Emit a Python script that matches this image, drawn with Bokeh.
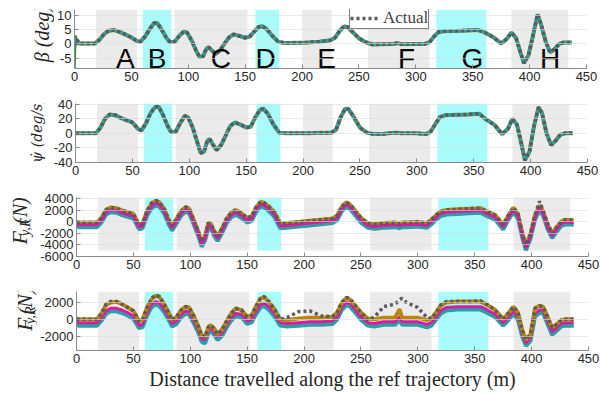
from math import pi
from bokeh.plotting import figure
from bokeh.layouts import column, row
from bokeh.models import Range1d, FixedTicker, Legend, LegendItem
from bokeh.core.properties import value
from bokeh.embed import file_html
from bokeh.resources import INLINE

# ---------------- data ----------------
dist = [0, 2, 4, 10, 18, 22, 26, 30, 35, 40,
        45, 50, 55, 58, 62, 66, 70, 73, 77, 81,
        84, 88, 92, 96, 99, 103, 107, 110, 113, 116,
        118, 121, 124, 128, 132, 136, 140, 145, 150, 154,
        158, 162, 165, 169, 174, 179, 185, 195, 205, 215,
        225, 229, 233, 237, 240, 244, 250, 256, 262, 270,
        280, 284, 286, 290, 300, 308, 312, 316, 320, 325,
        335, 345, 355, 360, 368, 375, 380, 384, 388, 392,
        395, 399, 403, 407, 410, 414, 418, 422, 426, 430,
        437]

beta = [-0.5, 1.5, 0.2, 0.2, 0.2, 1.5, 3.5, 4.7, 4.9, 4.2,
        3.3, 2.3, 1.0, 0.8, 2.6, 5.2, 7.4, 7.3, 4.8, 2.0,
        0.6, 0.8, 2.8, 4.4, 4.0, 1.2, -2.5, -4.6, -4.4, -1.6,
        -1.2, -2.4, -3.6, -2.2, 0.2, 2.4, 3.4, 2.8, 2.2, 2.6,
        4.4, 6.0, 6.3, 5.2, 2.8, 0.8, 0.3, 0.4, 0.5, 0.8,
        1.3, 2.2, 4.6, 6.2, 6.0, 4.4, 2.0, 0.6, -0.2, -0.1,
        0.0, 0.3, 0.0, -0.1, 0.0, 0.0, 0.6, 2.6, 4.2, 4.5,
        4.6, 4.8, 4.9, 4.2, 2.4, 0.2, 1.8, 4.0, 2.2, -3.0,
        -6.8, -4.0, 3.0, 10.5, 7.0, 1.0, -3.0, -1.8, 0.0, 0.5,
        0.5]

start_dist = [0, 0.4, 1.0, 1.8, 3.0, 5.0]
start_beta_green = [-8.5, -2.0, 3.0, 1.0, 0.0, 0.2]

psi_dot = [0, 0, 0, 0, 0, 8, 20, 26, 25, 21,
           18, 15, 6, 4, 14, 28, 36, 37, 25, 10,
           2, 2, 14, 24, 22, 8, -12, -27, -25, -10,
           -8, -16, -23, -16, -3, 10, 15, 12, 8, 9,
           22, 32, 34, 27, 12, 1, 0, 0, 0, 1,
           1, 5, 22, 34, 33, 24, 8, 1, -1, -1,
           1, 1, 0, 0, 0, -1, 2, 12, 22, 25,
           25.5, 26, 27, 20, 12, -1, 6, 20, 12, -15,
           -37, -25, 10, 36, 28, 0, -16, -10, -2, 0,
           0]

fyf_olive = [0, -100, -100, -100, -100, 700, 2100, 2500, 2400, 2000,
             1700, 1400, -500, -300, 1900, 3200, 3700, 3400, 2300, 400,
             -700, 600, 1900, 2600, 2300, 400, -1600, -3500, -2400, -100,
             -300, -1600, -2500, -1100, 600, 1600, 2100, 1500, 700, 1000,
             2600, 3500, 3300, 2700, 1700, -300, -200, 0, 200, 400,
             600, 1100, 2600, 3400, 3100, 2200, 700, -200, -400, -200,
             -100, -300, -100, -100, 0, -200, 400, 1200, 1800, 2100,
             2200, 2300, 2400, 1900, 1200, -500, 1300, 2500, 1400, -2100,
             -4100, -2100, 1200, 2900, 1900, -400, -2000, -900, 100, 400,
             300]
fyf_magenta = [-400, -500, -500, -500, -500, 300, 1700, 2100, 2000, 1600,
               1300, 1000, -900, -700, 1500, 2800, 3300, 3000, 1900, 0,
               -1100, 200, 1500, 2200, 1900, 0, -2000, -3900, -2800, -500,
               -700, -2000, -2900, -1500, 200, 1200, 1700, 1100, 300, 600,
               2200, 3100, 2900, 2300, 1300, -700, -600, -400, -200, 0,
               200, 700, 2200, 3000, 2700, 1800, 300, -600, -800, -600,
               -500, -700, -500, -500, -400, -600, 0, 800, 1400, 1700,
               1800, 1900, 2000, 1500, 800, -900, 900, 2100, 1000, -2500,
               -4500, -2500, 800, 2500, 1500, -800, -2400, -1300, -300, 0,
               -100]
fyf_teal = [-800, -900, -900, -900, -900, -100, 1300, 1700, 1600, 1200,
            900, 600, -1300, -1100, 1100, 2400, 2900, 2600, 1500, -400,
            -1500, -200, 1100, 1800, 1500, -400, -2400, -4300, -3200, -900,
            -1100, -2400, -3300, -1900, -200, 800, 1300, 700, -100, 200,
            1800, 2700, 2500, 1900, 900, -1100, -1000, -800, -600, -400,
            -200, 300, 1800, 2600, 2300, 1400, -100, -1000, -1200, -1000,
            -900, -1100, -900, -900, -800, -1000, -400, 400, 1000, 1300,
            1400, 1500, 1600, 1100, 400, -1300, 500, 1700, 600, -2900,
            -4900, -2900, 400, 2100, 1100, -1200, -2800, -1700, -700, -400,
            -500]
fyf_actual = [-100, -100, -100, -100, -100, 700, 2100, 2500, 2400, 2000,
              1700, 1400, -500, -300, 1900, 3300, 3700, 3400, 2300, 400,
              -700, 600, 1900, 2600, 2300, 400, -1600, -3500, -2400, -100,
              -300, -1600, -2500, -1100, 600, 1600, 2100, 1500, 700, 1000,
              2600, 3500, 3300, 2700, 1700, -300, -200, 0, 200, 400,
              600, 1100, 2600, 3400, 3100, 2200, 700, -200, -400, -200,
              -100, -300, -100, -100, 0, -200, 400, 1200, 1800, 2100,
              2200, 2300, 2400, 1900, 1200, -500, 1300, 2500, 1400, -2100,
              -4100, -2100, 1200, 3600, 2000, -200, -2000, -900, 100, 400,
              300]

fyr_olive = [100, 0, 0, 0, 0, 700, 1700, 2000, 2100, 1800,
             1400, 1000, -200, -100, 1400, 2400, 2800, 2600, 1800, 800,
             -100, 300, 1100, 1500, 1400, 400, -800, -1900, -2100, -900,
             -700, -1100, -1800, -1200, -200, 700, 1300, 1100, 300, 500,
             1600, 2500, 2600, 2100, 1200, 0, -100, 100, 200, 200,
             300, 800, 1900, 2500, 2400, 1800, 800, 100, 0, 200,
             200, 1200, 200, 200, 200, -100, 100, 800, 1600, 2000,
             2100, 2100, 2100, 1800, 1100, 0, 800, 1500, 800, -1400,
             -2400, -1800, 1300, 1600, 1500, 300, -1000, -600, -100, 0,
             0]
fyr_magenta = [-300, -400, -400, -400, -400, 200, 1000, 1300, 1300, 1100,
               800, 400, -700, -600, 800, 1800, 2100, 1900, 1200, 300,
               -500, -200, 600, 1000, 900, -100, -1200, -2300, -2400, -1300,
               -1000, -1500, -2100, -1600, -600, 200, 700, 600, -200, 0,
               1000, 1800, 1900, 1500, 700, -400, -500, -400, -300, -300,
               -200, 300, 1400, 2000, 1900, 1300, 300, -400, -500, -300,
               -300, 300, -300, -300, -300, -600, -400, 300, 1000, 1400,
               1500, 1500, 1500, 1200, 600, -400, 300, 1000, 300, -1800,
               -2800, -2200, 700, 1100, 1100, -200, -1500, -1000, -500, -400,
               -400]
fyr_teal = [-650, -750, -750, -750, -750, -150, 650, 950, 950, 750,
            450, 50, -1050, -950, 450, 1450, 1750, 1550, 850, -50,
            -850, -550, 250, 650, 550, -450, -1550, -2650, -2850, -1650,
            -1350, -1850, -2450, -1950, -950, -150, 350, 250, -550, -350,
            650, 1450, 1550, 1150, 350, -750, -850, -750, -650, -650,
            -550, -50, 1050, 1650, 1550, 950, -50, -750, -850, -650,
            -650, -50, -650, -650, -650, -950, -750, -50, 650, 1050,
            1150, 1150, 1150, 850, 250, -750, -50, 650, -50, -2150,
            -3150, -2550, 350, 750, 750, -550, -1850, -1350, -850, -750,
            -750]
fyr_actual = [0, 0, 0, 0, 0, 700, 1800, 2100, 2100, 1800,
              1400, 1000, -200, -100, 1400, 2500, 2900, 2700, 1800, 800,
              -100, 300, 1100, 1500, 1400, 400, -800, -1900, -2100, -900,
              -700, -1100, -1800, -1200, -200, 700, 1300, 1100, 300, 500,
              1600, 2600, 2700, 2100, 1200, 0, 200, 900, 1000, 400,
              300, 800, 2000, 2600, 2500, 1800, 800, -100, 300, 1500,
              1800, 2300, 2500, 2000, 1400, 200, 100, 800, 1700, 2100,
              2100, 2100, 2200, 1800, 1100, 0, 800, 1500, 800, -1400,
              -2400, -1800, 1300, 1600, 1500, 300, -1000, -600, -100, 0,
              0]

gray_start = [19, 88, 200, 258, 384]
gray_end = [55, 152, 226, 312, 434]
cyan_start = [60, 159, 318]
cyan_end = [85, 180, 362]

seg_letters = ["A", "B", "C", "D", "E", "F", "G", "H"]
seg_letter_x = [44.7, 72.5, 128.7, 168, 221.6, 291.8, 349.7, 418]

x_ticks = [0, 50, 100, 150, 200, 250, 300, 350, 400, 450]
beta_ticks = [-5, 0, 5, 10]
beta_tick_labels = ["-5", "0", "5", "10"]
psi_ticks = [-40, -20, 0, 20, 40]
psi_tick_labels = ["-40", "-20", "0", "20", "40"]
fyf_ticks = [-6000, -4000, -2000, 0, 2000, 4000]
fyf_tick_labels = ["-6000", "-4000", "-2000", "0", "2000", "4000"]
fyr_ticks = [-2000, 0, 2000]
fyr_tick_labels = ["-2000", "0", "2000"]

# ---------------- style ----------------
TEAL = "#2a9fa6"
MAGENTA = "#d81aa5"
OLIVE = "#b8860b"
GREEN = "#2f8f3f"
ACTUAL = "#5a5a5a"
GRAY_BG = "#ebebeb"
CYAN_BG = "#a8fcfc"
AX = "#8a8a8a"
SERIF = "Liberation Serif"
FRAME_LEFT = 74
FRAME_W = 512
FRAME_H = 59


def make_panel(label_w, ylo, yhi, ticks, tick_labels, shade_lo, shade_hi, bottom):
    p = figure(frame_width=FRAME_W, frame_height=FRAME_H, output_backend="svg",
               toolbar_location=None,
               x_range=Range1d(0, 450), y_range=Range1d(ylo, yhi),
               min_border_left=FRAME_LEFT - label_w, min_border_right=14,
               min_border_top=9, min_border_bottom=bottom)
    p.outline_line_color = None
    p.background_fill_color = "white"
    p.quad(left=gray_start, right=gray_end, bottom=shade_lo, top=shade_hi,
           color=GRAY_BG, line_color=None)
    p.quad(left=cyan_start, right=cyan_end, bottom=shade_lo, top=shade_hi,
           color=CYAN_BG, line_color=None)
    p.xgrid.visible = False
    p.ygrid.grid_line_color = "#dcdcdc"
    p.ygrid.level = "glyph"
    p.ygrid.grid_line_alpha = 0.6
    p.xaxis.ticker = FixedTicker(ticks=x_ticks)
    p.yaxis.ticker = FixedTicker(ticks=ticks)
    p.yaxis.major_label_overrides = {t: s for t, s in zip(ticks, tick_labels)}
    for ax in (p.xaxis[0], p.yaxis[0]):
        ax.axis_line_color = AX
        ax.major_tick_line_color = AX
        ax.major_tick_in = 4
        ax.major_tick_out = 0
        ax.minor_tick_line_color = None
        ax.major_label_text_font = "Liberation Sans"
        ax.major_label_text_font_size = "13px"
        ax.major_label_text_color = "#262626"
        ax.major_label_standoff = 3
    return p


def label_fig(w, h):
    f = figure(width=w, height=h, output_backend="svg", toolbar_location=None,
               x_range=Range1d(0, w), y_range=Range1d(0, h),
               x_axis_type=None, y_axis_type=None,
               min_border_left=0, min_border_right=0, min_border_top=0,
               min_border_bottom=0)
    f.outline_line_color = None
    f.xgrid.visible = False
    f.ygrid.visible = False
    return f


def vtext(f, x, y, text, size, font=SERIF):
    # x, y: centre of the rotated text inside the label strip (pixels)
    f.text(x=[x], y=[y], text=[text], angle=pi / 2, text_align="center",
           text_baseline="middle", text_font=value(font),
           text_font_style="italic", text_font_size=size, text_color="#262626")


# ---- panel 1: beta ----
L1 = 54
p1 = make_panel(L1, -8.7, 12.2, beta_ticks, beta_tick_labels, -8.7, 12.2, 26)
p1.line(dist, beta, line_color=OLIVE, line_width=4)
p1.line(start_dist, start_beta_green, line_color=GREEN, line_width=2.5)
p1.line(dist, beta, line_color=TEAL, line_width=3.5)
r_act = p1.line(dist, beta, line_color=ACTUAL, line_width=3.5, line_dash="3 3")
p1.text(x=seg_letter_x, y=[-5.2] * len(seg_letter_x), text=seg_letters,
        text_align="center", text_baseline="middle",
        text_font=value("Liberation Sans"), text_font_size="28px", text_color="black")
leg = Legend(items=[LegendItem(label="Actual", renderers=[r_act])], location=(275, 39))
leg.label_text_font = SERIF
leg.label_text_font_size = "17px"
leg.label_height = 10
leg.glyph_height = 10
leg.glyph_width = 30
leg.padding = 0
leg.margin = 0
leg.label_standoff = 3
leg.border_line_color = "black"
leg.border_line_width = 1
leg.background_fill_alpha = 1
p1.add_layout(leg, "center")
lab1 = label_fig(L1, 94)
vtext(lab1, 41, 55.5, "β (deg)", "20px")

# ---- panel 2: psi dot ----
L2 = 50
p2 = make_panel(L2, -40, 41, psi_ticks, psi_tick_labels, -40, 41, 26)
p2.line(dist, psi_dot, line_color=OLIVE, line_width=4)
p2.line(dist, psi_dot, line_color=TEAL, line_width=3.5)
p2.line(dist, psi_dot, line_color=ACTUAL, line_width=3.5, line_dash="3 3")
lab2 = label_fig(L2, 94)
vtext(lab2, 36, 51, "ψ̇ (deg/s)", "14px", "DejaVu Serif")

# ---- panel 3: Fy,F ----
L3 = 37
p3 = make_panel(L3, -6000, 4250, fyf_ticks, fyf_tick_labels, -4950, 4250, 26)
p3.line(dist, fyf_teal, line_color=TEAL, line_width=4)
p3.line(dist, fyf_olive, line_color=OLIVE, line_width=4)
p3.line(dist, fyf_magenta, line_color=MAGENTA, line_width=3)
p3.line(dist, fyf_actual, line_color=ACTUAL, line_width=3.5, line_dash="3 3")
lab3 = label_fig(L3, 94)
vtext(lab3, 18.5, 29.7, "F", "22px")
vtext(lab3, 25.0, 46.5, "y,F", "14px")
vtext(lab3, 19.0, 73.0, "(N)", "20px")

# ---- panel 4: Fy,R ----
L4 = 37
p4 = make_panel(L4, -3700, 3300, fyr_ticks, fyr_tick_labels, -3700, 3300, 44)
p4.line(dist, fyr_teal, line_color=TEAL, line_width=4)
p4.line(dist, fyr_magenta, line_color=MAGENTA, line_width=3)
p4.line(dist, fyr_olive, line_color=OLIVE, line_width=4)
p4.line(dist, fyr_actual, line_color=ACTUAL, line_width=3.5, line_dash="3 3")
p4.xaxis.axis_label = "Distance travelled along the ref trajectory (m)"
p4.xaxis.axis_label_text_font = SERIF
p4.xaxis.axis_label_text_font_style = "normal"
p4.xaxis.axis_label_text_font_size = "20px"
p4.xaxis.axis_label_text_color = "#262626"
p4.xaxis.axis_label_standoff = 2
lab4 = label_fig(L4, 112)
vtext(lab4, 23.5, 49.7, "F", "22px")
vtext(lab4, 30.0, 67.0, "y,R", "14px")
vtext(lab4, 24.0, 94.0, "(N)", "20px")

layout = column(row(lab1, p1, spacing=0), row(lab2, p2, spacing=0),
                row(lab3, p3, spacing=0), row(lab4, p4, spacing=0), spacing=0)
open("out.html", "w").write(file_html(layout, INLINE))
